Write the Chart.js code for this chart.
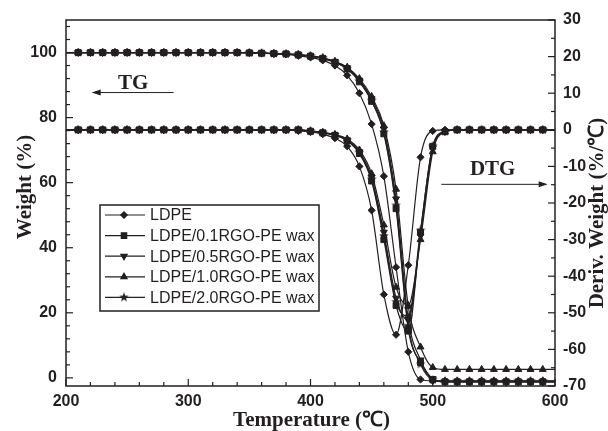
<!DOCTYPE html>
<html>
<head>
<meta charset="utf-8">
<script src="https://cdn.jsdelivr.net/npm/chart.js@4.4.1/dist/chart.umd.min.js"></script>
<style>
  html, body { margin: 0; padding: 0; background: #fff; }
  #wrap { width: 608px; height: 431px; }
</style>
</head>
<body>
<div id="wrap"><canvas id="tga"></canvas></div>
<script>
// temperature (°C), one reading every 10 degrees
const temps = [200, 210, 220, 230, 240, 250, 260, 270, 280, 290,
  300, 310, 320, 330, 340, 350, 360, 370, 380, 390,
  400, 410, 420, 430, 440, 450, 460, 470, 480, 490,
  500, 510, 520, 530, 540, 550, 560, 570, 580, 590, 600];

const seriesNames = ["LDPE", "LDPE/0.1RGO-PE wax", "LDPE/0.5RGO-PE wax", "LDPE/1.0RGO-PE wax", "LDPE/2.0RGO-PE wax"];

// TG, weight (%)  -> left axis
const tgLDPE = [100, 100, 100, 100, 100, 100, 100, 100, 100, 100, 100, 100, 100, 100, 100,
  99.9, 99.8, 99.6, 99.4, 99.0, 98.5, 97.6, 96.0, 93.0, 87.5, 78, 62, 34, 8, -0.5,
  -0.9, -0.9, -0.9, -0.9, -0.9, -0.9, -0.9, -0.9, -0.9, -0.9, -0.9];
const tg01 = [100, 100, 100, 100, 100, 100, 100, 100, 100, 100, 100, 100, 100, 100, 100,
  99.9, 99.8, 99.7, 99.6, 99.3, 98.9, 98.2, 97.0, 95.0, 91.0, 85.0, 75.0, 52, 15, 4.7, -0.5,
  -1.2, -1.2, -1.2, -1.2, -1.2, -1.2, -1.2, -1.2, -1.2, -1.2];
const tg05 = [100, 100, 100, 100, 100, 100, 100, 100, 100, 100, 100, 100, 100, 100, 100,
  99.9, 99.8, 99.7, 99.6, 99.3, 98.9, 98.3, 97.2, 95.3, 91.5, 85.8, 76.5, 55, 18, 5.5, -0.3,
  -1.3, -1.3, -1.3, -1.3, -1.3, -1.3, -1.3, -1.3, -1.3, -1.3];
const tg10 = [100, 100, 100, 100, 100, 100, 100, 100, 100, 100, 100, 100, 100, 100, 100,
  99.9, 99.8, 99.7, 99.6, 99.4, 99.0, 98.4, 97.3, 95.5, 92, 86.5, 77.5, 58, 22, 9.5, 3.2,
  2.6, 2.6, 2.6, 2.6, 2.6, 2.6, 2.6, 2.6, 2.6, 2.6];
const tg20 = [100, 100, 100, 100, 100, 100, 100, 100, 100, 100, 100, 100, 100, 100, 100,
  99.9, 99.8, 99.7, 99.6, 99.3, 98.9, 98.2, 97.0, 95.0, 91.2, 85.2, 75.5, 53, 16, 4.2, -0.6,
  -1.0, -1.0, -1.0, -1.0, -1.0, -1.0, -1.0, -1.0, -1.0, -1.0];

// DTG, deriv. weight (%/°C) -> right axis
const dtgLDPE = [0, 0, 0, 0, 0, 0, 0, 0, 0, 0, 0, 0, 0, 0, 0, 0, 0, 0, 0,
  -0.3, -0.6, -1.2, -2.3, -4.5, -10, -22, -45, -56, -37, -7.5, -0.3,
  0, 0, 0, 0, 0, 0, 0, 0, 0, 0];
const dtg01 = [0, 0, 0, 0, 0, 0, 0, 0, 0, 0, 0, 0, 0, 0, 0, 0, 0, 0, 0, 0,
  -0.4, -0.8, -1.5, -3, -6.5, -14, -30, -48, -55, -28, -4.5, -0.5,
  0, 0, 0, 0, 0, 0, 0, 0, 0];
const dtg05 = [0, 0, 0, 0, 0, 0, 0, 0, 0, 0, 0, 0, 0, 0, 0, 0, 0, 0, 0, 0,
  -0.4, -0.8, -1.4, -2.8, -6, -13, -28, -46, -52, -29, -5, -0.5,
  0, 0, 0, 0, 0, 0, 0, 0, 0];
const dtg10 = [0, 0, 0, 0, 0, 0, 0, 0, 0, 0, 0, 0, 0, 0, 0, 0, 0, 0, 0, 0,
  -0.3, -0.7, -1.3, -2.5, -5.5, -12, -26, -43, -48, -30, -6, -0.6,
  0, 0, 0, 0, 0, 0, 0, 0, 0];
const dtg20 = [0, 0, 0, 0, 0, 0, 0, 0, 0, 0, 0, 0, 0, 0, 0, 0, 0, 0, 0, 0,
  -0.4, -0.8, -1.4, -2.8, -6.2, -13.5, -29, -47, -51, -27.5, -4.5, -0.4,
  0, 0, 0, 0, 0, 0, 0, 0, 0];

const tgSeries = [tgLDPE, tg01, tg05, tg10, tg20];
const dtgSeries = [dtgLDPE, dtg01, dtg05, dtg10, dtg20];

const INK = "#231f20";

// filled five point star, Chart.js only has an outline one
function makeStar (size) {
  const c = document.createElement("canvas");
  c.width = size;
  c.height = size;
  const g = c.getContext("2d");
  const r = size / 2, ri = r * 0.42;
  g.fillStyle = INK;
  g.beginPath();
  for (let i = 0; i < 10; i++) {
    const a = -Math.PI / 2 + i * Math.PI / 5;
    const rr = i % 2 === 0 ? r : ri;
    g.lineTo(r + rr * Math.cos(a), r + rr * Math.sin(a));
  }
  g.closePath();
  g.fill();
  return c;
}

const markerStyle = ["rectRot", "rect", "triangle", "triangle", makeStar(10)];
const markerRot = [0, 0, 180, 0, 0];
const markerSize = [3.6, 4.2, 4, 4, 4];

function buildSet (values, i, axis) {
  return {
    label: seriesNames[i],
    data: temps.map((t, k) => ({ x: t, y: values[k] })),
    yAxisID: axis,
    borderColor: INK,
    backgroundColor: INK,
    borderWidth: 1.2,
    cubicInterpolationMode: "monotone",
    pointStyle: markerStyle[i],
    pointRotation: markerRot[i],
    pointBorderWidth: 1,
    pointBorderColor: INK,
    pointBackgroundColor: INK,
    pointRadius: (c) => (c.dataIndex === 0 || c.dataIndex === temps.length - 1) ? 0 : markerSize[i]
  };
}

const datasets = [];
tgSeries.forEach((s, i) => datasets.push(buildSet(s, i, "y")));
dtgSeries.forEach((s, i) => datasets.push(buildSet(s, i, "y2")));

const tickFont = { family: "'Liberation Sans', Arial, sans-serif", size: 16, weight: "bold" };
const titleFont = "bold 21px 'Liberation Serif', 'Times New Roman', serif";

function line (ctx, x1, y1, x2, y2) {
  ctx.beginPath();
  ctx.moveTo(x1, y1);
  ctx.lineTo(x2, y2);
  ctx.stroke();
}

function arrowHead (ctx, x, y, dir) {
  ctx.beginPath();
  ctx.moveTo(x, y);
  ctx.lineTo(x - dir * 9, y - 3);
  ctx.lineTo(x - dir * 9, y + 3);
  ctx.closePath();
  ctx.fill();
}

const decor = {
  id: "tgaDecor",
  afterDraw (chart) {
    const ctx = chart.ctx;
    const a = chart.chartArea;
    const sx = chart.scales.x, sy = chart.scales.y, sy2 = chart.scales.y2;
    ctx.save();
    ctx.strokeStyle = INK;
    ctx.fillStyle = INK;

    // frame
    ctx.lineWidth = 1.5;
    ctx.strokeRect(a.left, a.top, a.right - a.left, a.bottom - a.top);

    // inward ticks, major + minor
    ctx.lineWidth = 1.2;
    for (let v = 0; v <= 110; v += 4) {
      const p = sy.getPixelForValue(v);
      line(ctx, a.left, p, a.left + (v % 20 === 0 ? 7 : 4), p);
    }
    for (let v = -70; v <= 30; v += 5) {
      const p = sy2.getPixelForValue(v);
      line(ctx, a.right, p, a.right - (v % 10 === 0 ? 7 : 4), p);
    }
    for (let v = 200; v <= 600; v += 20) {
      const p = sx.getPixelForValue(v);
      line(ctx, p, a.bottom, p, a.bottom - (v % 100 === 0 ? 7 : 4));
    }

    // axis titles
    ctx.font = titleFont;
    ctx.textAlign = "center";
    ctx.textBaseline = "alphabetic";
    ctx.fillText("Temperature (℃)", (a.left + a.right) / 2 + 1, 426);
    ctx.save();
    ctx.translate(31, 187);
    ctx.rotate(-Math.PI / 2);
    ctx.fillText("Weight (%)", 0, 0);
    ctx.restore();
    ctx.save();
    ctx.translate(603, 213);
    ctx.rotate(-Math.PI / 2);
    ctx.fillText("Deriv. Weight (%/℃)", 0, 0);
    ctx.restore();

    // TG / DTG labels with arrows
    ctx.fillText("TG", sx.getPixelForValue(255), sy.getPixelForValue(91) + 7);
    ctx.lineWidth = 1;
    const tgY = sy.getPixelForValue(87.7);
    line(ctx, sx.getPixelForValue(222), tgY, sx.getPixelForValue(288), tgY);
    arrowHead(ctx, sx.getPixelForValue(221), tgY, -1);

    ctx.fillText("DTG", sx.getPixelForValue(549), sy2.getPixelForValue(-10.5) + 7);
    const dY = sy2.getPixelForValue(-14.9);
    line(ctx, sx.getPixelForValue(507), dY, sx.getPixelForValue(592), dY);
    arrowHead(ctx, sx.getPixelForValue(594), dY, 1);

    // legend box
    ctx.lineWidth = 1.5;
    ctx.strokeRect(100, 205, 219, 106);
    ctx.font = "16px 'Liberation Sans', Arial, sans-serif";
    ctx.textAlign = "left";
    ctx.textBaseline = "middle";
    seriesNames.forEach((name, i) => {
      const y = 215 + i * 20.6;
      ctx.lineWidth = 1.2;
      line(ctx, 105, y, 145, y);
      Chart.helpers.drawPoint(ctx, {
        pointStyle: markerStyle[i],
        rotation: markerRot[i],
        radius: markerSize[i] - 0.4,
        borderWidth: 1
      }, 124, y);
      ctx.fill();
      ctx.fillText(name, 150, y + 1);
    });
    ctx.restore();
  }
};

new Chart(document.getElementById("tga"), {
  type: "line",
  data: { datasets },
  options: {
    responsive: true,
    maintainAspectRatio: false,
    animation: false,
    layout: { padding: { top: 20, left: 0, right: 0, bottom: 0 } },
    plugins: {
      legend: { display: false },
      tooltip: { enabled: false }
    },
    scales: {
      x: {
        type: "linear",
        min: 200,
        max: 600,
        afterBuildTicks: (s) => { s.ticks = [200, 300, 400, 500, 600].map(v => ({ value: v })); },
        afterFit: (s) => { s.height = 45; },
        grid: { display: false, drawTicks: false },
        border: { display: false },
        ticks: { font: tickFont, color: INK, padding: 6, maxRotation: 0 }
      },
      y: {
        position: "left",
        min: -2.5,
        max: 110,
        afterBuildTicks: (s) => { s.ticks = [0, 20, 40, 60, 80, 100].map(v => ({ value: v })); },
        afterFit: (s) => { s.width = 66; },
        grid: { display: false, drawTicks: false },
        border: { display: false },
        ticks: { font: tickFont, color: INK, padding: 9 }
      },
      y2: {
        position: "right",
        min: -70,
        max: 30,
        afterBuildTicks: (s) => { s.ticks = [-70, -60, -50, -40, -30, -20, -10, 0, 10, 20, 30].map(v => ({ value: v })); },
        afterFit: (s) => { s.width = 53; },
        grid: { display: false, drawTicks: false },
        border: { display: false },
        ticks: { font: tickFont, color: INK, padding: 8 }
      }
    }
  },
  plugins: [decor]
});
</script>
</body>
</html>
